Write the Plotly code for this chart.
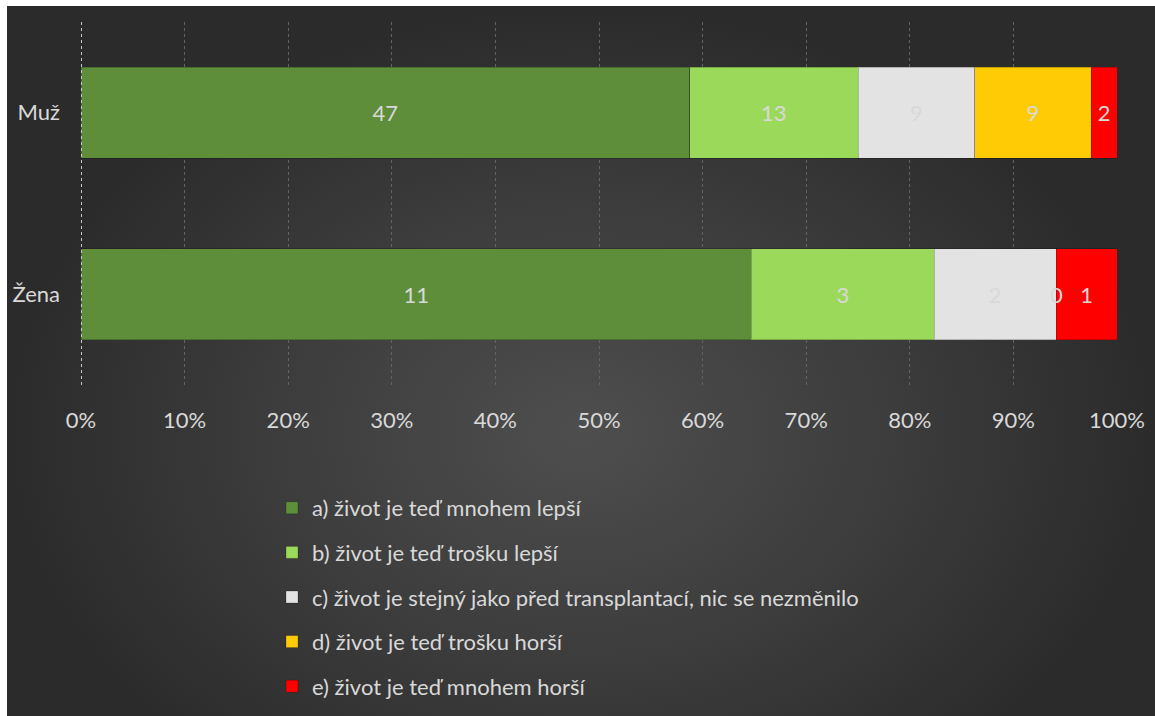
import plotly.graph_objects as go

# Survey answers by sex (counts); bars are normalised to 100 %
groups = ["Muž", "Žena"]
answers = [
    "a) život je teď mnohem lepší",
    "b) život je teď trošku lepší",
    "c) život je stejný jako před transplantací, nic se nezměnilo",
    "d) život je teď trošku horší",
    "e) život je teď mnohem horší",
]
counts = [
    [47, 11],
    [13, 3],
    [9, 2],
    [9, 0],
    [2, 1],
]
colors = ["#5e8e3a", "#9bd95a", "#e3e3e3", "#ffcb05", "#ff0000"]
x_ticks = list(range(0, 101, 10))
x_tick_labels = [f"{v}%" for v in x_ticks]

FONT = "Lato"
SIZE = 22
TXT = "#d9d9d9"

fig = go.Figure()

# dark panel with a soft radial light, centred a little below the middle
fig.add_trace(go.Scatter(
    x=[7 / 1155, 1, 1, 7 / 1155, 7 / 1155],
    y=[-0.2, -0.2, 1 - 6 / 716, 1 - 6 / 716, -0.2],
    mode="lines", fill="toself", line=dict(width=0),
    fillgradient=dict(type="radial",
                      colorscale=[[0, "#4e4e4e"], [0.55, "#3c3c3c"], [1, "#2b2b2b"]]),
    hoverinfo="skip", showlegend=False, xaxis="x", yaxis="y",
))

for i, (name, vals, col) in enumerate(zip(answers, counts, colors)):
    fig.add_trace(go.Bar(
        name=name, y=groups, x=vals, orientation="h",
        marker=dict(color=col, line=dict(color="rgba(0,0,0,0.22)", width=1)),
        text=[str(v) for v in vals], textposition="inside",
        insidetextanchor="middle", constraintext="none",
        textfont=dict(family=FONT, size=SIZE, color=TXT),
        legendgroup=f"g{i}", xaxis="x2", yaxis="y2",
        hoverinfo="name+x",
    ))

# zero-width segments still carry a value label at their position
totals = [sum(c[j] for c in counts) for j in range(len(groups))]
for j, g in enumerate(groups):
    cum = 0
    for c in counts:
        v = c[j]
        if v == 0:
            fig.add_annotation(x=100 * cum / totals[j], y=g, xref="x2", yref="y2",
                               text=str(v), showarrow=False,
                               font=dict(family=FONT, size=SIZE, color=TXT))
        cum += v

# dashed line marking the 0 % baseline
fig.add_shape(type="line", xref="x2", yref="y2 domain", x0=0, x1=0, y0=0, y1=1,
              line=dict(color="#c8c8c8", width=2, dash="dot"))

fig.update_layout(
    width=1155, height=716,
    margin=dict(l=0, r=0, t=0, b=0),
    paper_bgcolor="#ffffff",
    plot_bgcolor="rgba(0,0,0,0)",
    barmode="stack", barnorm="percent", bargap=0.5,
    font=dict(family=FONT, size=SIZE, color=TXT),
    showlegend=True,
    legend=dict(
        x=272 / 1155, y=1 - 487 / 716, xanchor="left", yanchor="top",
        orientation="v", traceorder="grouped", tracegroupgap=13,
        bgcolor="rgba(0,0,0,0)", font=dict(family=FONT, size=SIZE, color=TXT),
    ),
    xaxis=dict(domain=[0, 1], range=[0, 1], visible=False, fixedrange=True),
    yaxis=dict(domain=[0, 1], range=[0, 1], visible=False, fixedrange=True),
    xaxis2=dict(
        domain=[81 / 1155, 1117 / 1155], anchor="y2", range=[0, 100],
        tickvals=x_ticks, ticktext=x_tick_labels, showgrid=True,
        gridcolor="#636363", griddash="dot", gridwidth=1,
        zeroline=False, showline=False, ticks="",
        ticklabelstandoff=20, automargin=False,
        tickfont=dict(family=FONT, size=SIZE, color=TXT),
    ),
    yaxis2=dict(
        domain=[1 - 385 / 716, 1 - 22 / 716], anchor="x2",
        autorange="reversed", showgrid=False, zeroline=False, showline=False,
        ticks="", ticklabelstandoff=20, automargin=False,
        tickfont=dict(family=FONT, size=SIZE, color=TXT),
    ),
)

fig.write_html("out.html")
